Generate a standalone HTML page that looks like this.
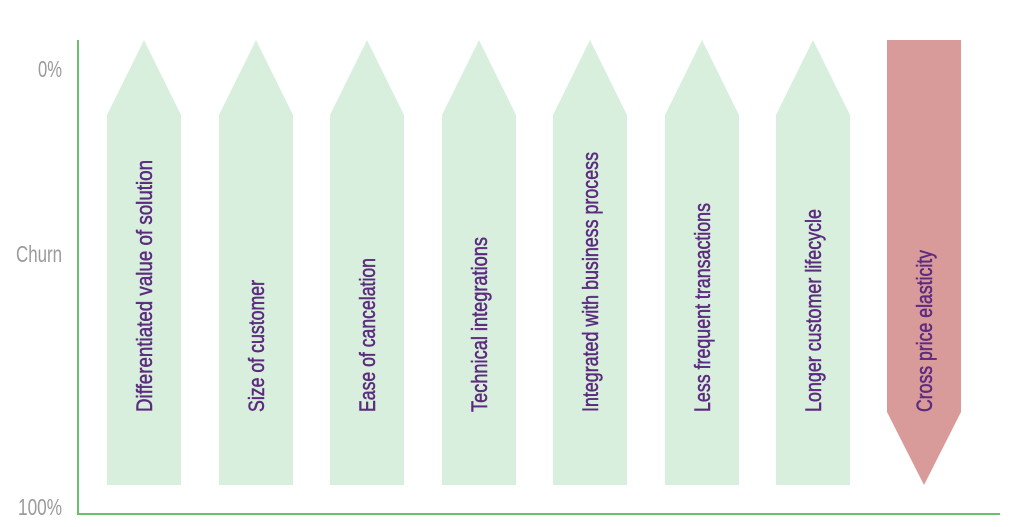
<!DOCTYPE html>
<html><head><style>body{margin:0;background:#fff}svg{display:block}</style></head><body>
<svg width="1024" height="527" viewBox="0 0 1024 527" xmlns="http://www.w3.org/2000/svg">
<g font-family="'Liberation Sans',sans-serif" fill="#9a9a9a" font-size="23">
<text x="38" y="77" textLength="24" lengthAdjust="spacingAndGlyphs">0%</text>
<text x="16" y="262" textLength="46" lengthAdjust="spacingAndGlyphs">Churn</text>
<text x="18" y="515" textLength="44" lengthAdjust="spacingAndGlyphs">100%</text>
</g>
<line x1="78" y1="40" x2="78" y2="514" stroke="#6cbf6c" stroke-width="2"/>
<line x1="77" y1="514" x2="1000" y2="514" stroke="#6cbf6c" stroke-width="2"/>
<g fill="#d9efdd">
<polygon points="107,115 144,40 181,115 181,485 107,485"/>
<polygon points="219,115 256,40 293,115 293,485 219,485"/>
<polygon points="330,115 367,40 404,115 404,485 330,485"/>
<polygon points="442,115 479,40 516,115 516,485 442,485"/>
<polygon points="553,115 590,40 627,115 627,485 553,485"/>
<polygon points="665,115 702,40 739,115 739,485 665,485"/>
<polygon points="776,115 813,40 850,115 850,485 776,485"/>
</g>
<polygon points="887,40 961,40 961,412 924,485 887,412" fill="#d99a9a"/>
<g font-family="'Liberation Sans',sans-serif" fill="#5b2b7e" stroke="#5b2b7e" stroke-width="0.5" font-size="22">
<text transform="translate(152,412) rotate(-90)" textLength="252" lengthAdjust="spacingAndGlyphs">Differentiated value of solution</text>
<text transform="translate(264,412) rotate(-90)" textLength="132" lengthAdjust="spacingAndGlyphs">Size of customer</text>
<text transform="translate(375,412) rotate(-90)" textLength="154" lengthAdjust="spacingAndGlyphs">Ease of cancelation</text>
<text transform="translate(487,412) rotate(-90)" textLength="175" lengthAdjust="spacingAndGlyphs">Technical integrations</text>
<text transform="translate(598,412) rotate(-90)" textLength="260" lengthAdjust="spacingAndGlyphs">Integrated with business process</text>
<text transform="translate(710,412) rotate(-90)" textLength="209" lengthAdjust="spacingAndGlyphs">Less frequent transactions</text>
<text transform="translate(821,412) rotate(-90)" textLength="203" lengthAdjust="spacingAndGlyphs">Longer customer lifecycle</text>
<text transform="translate(932,412) rotate(-90)" textLength="162" lengthAdjust="spacingAndGlyphs">Cross price elasticity</text>
</g>
</svg>
</body></html>
